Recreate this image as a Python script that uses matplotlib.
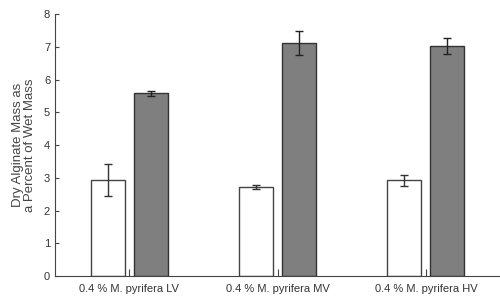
import matplotlib
matplotlib.use("Agg")
import matplotlib.pyplot as plt
import numpy as np

plt.rcParams['font.family'] = ['Liberation Sans', 'DejaVu Sans']

# data
categories = ["0.4 % M. pyrifera LV", "0.4 % M. pyrifera MV", "0.4 % M. pyrifera HV"]
white_vals = [2.93, 2.71, 2.93]
white_err = [0.50, 0.06, 0.17]
gray_vals = [5.58, 7.12, 7.02]
gray_err = [0.08, 0.37, 0.24]
y_ticks = [0, 1, 2, 3, 4, 5, 6, 7, 8]

fig = plt.figure(figsize=(5, 3), dpi=100)
ax = fig.add_axes([0.11, 0.08, 0.89, 0.873])

x = np.arange(len(categories))
w = 0.23
off = 0.145

ax.bar(x - off, white_vals, w, color="white", edgecolor="#444444", linewidth=1,
       yerr=white_err, error_kw=dict(ecolor="#333333", elinewidth=1, capsize=3, capthick=1))
ax.bar(x + off, gray_vals, w, color="#7f7f7f", edgecolor="#333333", linewidth=1,
       yerr=gray_err, error_kw=dict(ecolor="#222222", elinewidth=1, capsize=3, capthick=1))

ax.set_xlim(-0.5, 2.5)
ax.set_ylim(0, 8)
ax.set_yticks(y_ticks)
ax.set_xticks(x)
ax.set_xticklabels(categories, fontsize=8, color="#333333")
ax.tick_params(axis="y", direction="in", length=3, labelsize=8, labelcolor="#333333", color="#444444")
ax.tick_params(axis="x", direction="in", length=5, color="#444444", pad=6)

for s in ["top", "right"]:
    ax.spines[s].set_visible(False)
for s in ["left", "bottom"]:
    ax.spines[s].set_color("#444444")

ax.set_ylabel("Dry Alginate Mass as\na Percent of Wet Mass", fontsize=9.5, color="#444444",
              linespacing=0.95, labelpad=6)

fig.savefig("out.png", dpi=100)
